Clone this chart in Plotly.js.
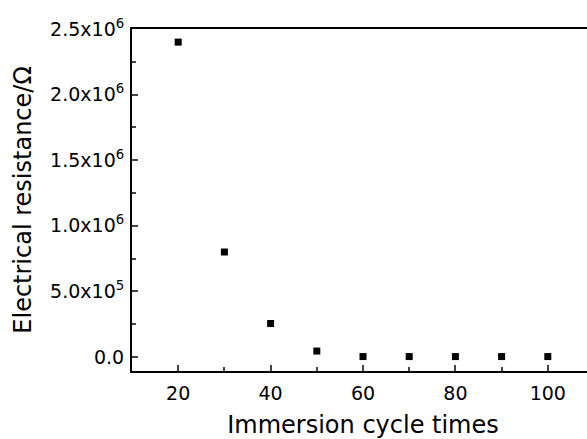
<!DOCTYPE html>
<html>
<head>
<meta charset="utf-8">
<script src="https://cdn.plot.ly/plotly-3.0.1.min.js"></script>
<style>
html,body{margin:0;padding:0;overflow:hidden;background:#fff;}
#chart{width:600px;height:439px;}
</style>
</head>
<body>
<div id="chart"></div>
<script>
const cycles = [20, 30, 40, 50, 60, 70, 80, 90, 100];
const resistance = [2.40e6, 8.0e5, 2.55e5, 4.5e4, 3e3, 3e3, 3e3, 3e3, 3e3];
const xTicks = [20, 40, 60, 80, 100];
const yTickVals = [0, 5e5, 1e6, 1.5e6, 2e6, 2.5e6];
const yTickText = ['0.0', '5.0x10<sup>5</sup>', '1.0x10<sup>6</sup>', '1.5x10<sup>6</sup>', '2.0x10<sup>6</sup>', '2.5x10<sup>6</sup>'];

const font = {family: 'DejaVu Sans, Arial, sans-serif', color: '#000'};

Plotly.newPlot('chart', [{
  x: cycles, y: resistance, type: 'scatter', mode: 'markers',
  marker: {symbol: 'square', size: 7, color: '#000'}
}], {
  width: 600, height: 439,
  margin: {l: 132, r: 6, t: 29, b: 68},
  paper_bgcolor: '#fff', plot_bgcolor: '#fff',
  showlegend: false,
  font: Object.assign({size: 19}, font),
  xaxis: {
    range: [10, 110], tickvals: xTicks, ticks: 'inside', ticklen: 6, tickwidth: 2,
    showline: true, linewidth: 2, linecolor: '#000', mirror: true,
    showgrid: false, zeroline: false, ticklabelstandoff: 4,
    minor: {ticks: 'inside', ticklen: 4, tickwidth: 2, dtick: 10, tick0: 10, showgrid: false},
    tickfont: Object.assign({size: 19}, font),
    title: {text: 'Immersion cycle times', font: Object.assign({size: 24}, font), standoff: 21}
  },
  yaxis: {
    range: [-1.07e5, 2.5e6], tickvals: yTickVals, ticktext: yTickText,
    ticks: 'inside', ticklen: 6, tickwidth: 2,
    showline: true, linewidth: 2, linecolor: '#000', mirror: true,
    showgrid: false, zeroline: false, ticklabelstandoff: 2,
    minor: {ticks: 'inside', ticklen: 4, tickwidth: 2, dtick: 2.5e5, tick0: 0, showgrid: false},
    tickfont: Object.assign({size: 19}, font),
    title: {text: 'Electrical resistance/Ω', font: Object.assign({size: 24}, font), standoff: 12}
  }
}, {displayModeBar: false, staticPlot: true});
</script>
</body>
</html>
